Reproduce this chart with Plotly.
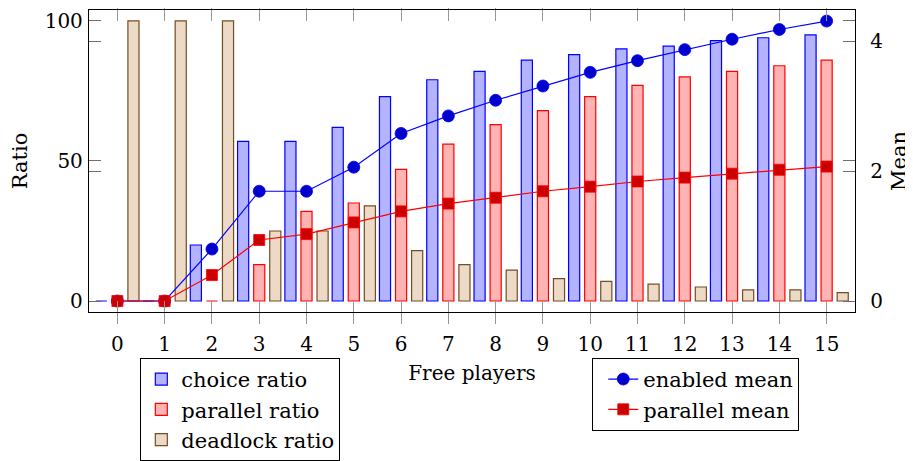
import plotly.graph_objects as go

# ---- data ----
free_players = list(range(16))
choice_ratio = [0, 0, 20, 57, 57, 62, 73, 79, 82, 86, 88, 90, 91, 93, 94, 95]
parallel_ratio = [0, 0, 0, 13, 32, 35, 47, 56, 63, 68, 73, 77, 80, 82, 84, 86]
deadlock_ratio = [100, 100, 100, 25, 25, 34, 18, 13, 11, 8, 7, 6, 5, 4, 4, 3]
enabled_mean = [0, 0, 0.80, 1.69, 1.69, 2.06, 2.58, 2.85, 3.09, 3.31, 3.52, 3.70, 3.87, 4.03, 4.18, 4.31]
parallel_mean = [0, 0, 0.40, 0.94, 1.03, 1.21, 1.38, 1.50, 1.59, 1.69, 1.76, 1.84, 1.90, 1.96, 2.02, 2.07]

FONT = "DejaVu Serif"
FS = 20
BW = 0.235  # bar width
SHIFT = 0.34

fig = go.Figure()

bar_specs = [
    ("choice ratio", choice_ratio, "rgb(179,179,255)", "rgb(0,0,255)", -SHIFT),
    ("parallel ratio", parallel_ratio, "rgb(255,179,179)", "rgb(255,0,0)", 0.0),
    ("deadlock ratio", deadlock_ratio, "rgb(236,217,198)", "rgb(115,77,38)", SHIFT),
]
for name, vals, fill, line, sh in bar_specs:
    fig.add_trace(go.Bar(
        x=free_players, y=vals, name=name,
        width=BW, offset=sh - BW / 2,
        marker=dict(color=fill, line=dict(color=line, width=1.2)),
        xaxis="x", yaxis="y", legend="legend",
    ))

fig.add_trace(go.Scatter(
    x=free_players, y=enabled_mean, name="enabled mean", mode="lines+markers",
    line=dict(color="rgb(0,0,255)", width=1.2),
    marker=dict(symbol="circle", size=12, color="rgb(0,0,204)",
                line=dict(color="rgb(0,0,255)", width=0.8)),
    xaxis="x2", yaxis="y2", legend="legend2",
))
fig.add_trace(go.Scatter(
    x=free_players, y=parallel_mean, name="parallel mean", mode="lines+markers",
    line=dict(color="rgb(255,0,0)", width=1.2),
    marker=dict(symbol="square", size=11, color="rgb(204,0,0)",
                line=dict(color="rgb(255,0,0)", width=0.8)),
    xaxis="x2", yaxis="y2", legend="legend2",
))

XR = [-0.6, 15.6]
TICKC = "rgb(150,150,150)"
YTICKC = "rgb(110,110,110)"

fig.update_layout(
    width=913, height=461,
    margin=dict(l=81, r=66, t=2, b=157, autoexpand=False),
    paper_bgcolor="white", plot_bgcolor="white",
    font=dict(family=FONT, size=FS, color="black"),
    barmode="overlay",
    xaxis=dict(
        range=XR, tickmode="array", tickvals=free_players,
        ticktext=[str(v) for v in free_players],
        ticks="outside", ticklen=11, tickwidth=1.3, tickcolor=TICKC,
        showline=True, linecolor="black", linewidth=1.3, mirror="ticks",
        showgrid=False, zeroline=False, ticklabelstandoff=3,
        title=dict(text="Free players", standoff=10, font=dict(size=FS)),
        tickfont=dict(size=FS),
    ),
    xaxis2=dict(
        range=XR, overlaying="x", anchor="y2", tickmode="array", tickvals=free_players,
        ticks="inside", ticklen=11, tickwidth=1.3, tickcolor=TICKC,
        showline=True, linecolor="black", linewidth=1.3, mirror="ticks",
        showticklabels=False, showgrid=False, zeroline=False,
    ),
    yaxis=dict(
        range=[-3.92, 103.9], tickmode="array", tickvals=[0, 50, 100],
        ticks="inside", ticklen=12, tickwidth=1.3, tickcolor=YTICKC,
        showline=True, linecolor="black", linewidth=1.3, mirror="ticks",
        showgrid=False, zeroline=False, ticklabelstandoff=1,
        title=dict(text="Ratio", standoff=16, font=dict(size=21)),
        tickfont=dict(size=FS),
    ),
    yaxis2=dict(
        range=[-0.169, 4.48], overlaying="y", side="right", anchor="x2",
        tickmode="array", tickvals=[0, 2, 4],
        ticks="inside", ticklen=12, tickwidth=1.3, tickcolor=YTICKC,
        showline=True, linecolor="black", linewidth=1.3, mirror="ticks",
        showgrid=False, zeroline=False, ticklabelstandoff=10,
        title=dict(text="Mean", standoff=9, font=dict(size=21)),
        tickfont=dict(size=FS),
    ),
    legend=dict(
        x=0.067, y=-0.152, xanchor="left", yanchor="top",
        bordercolor="black", borderwidth=1, bgcolor="white",
        font=dict(family=FONT, size=21), tracegroupgap=0,
    ),
    legend2=dict(
        x=0.657, y=-0.152, xanchor="left", yanchor="top",
        bordercolor="black", borderwidth=1, bgcolor="white",
        font=dict(family=FONT, size=21), tracegroupgap=0, indentation=10,
        entrywidth=168, entrywidthmode="pixels",
    ),
    showlegend=True,
)

fig.write_html("out.html")
